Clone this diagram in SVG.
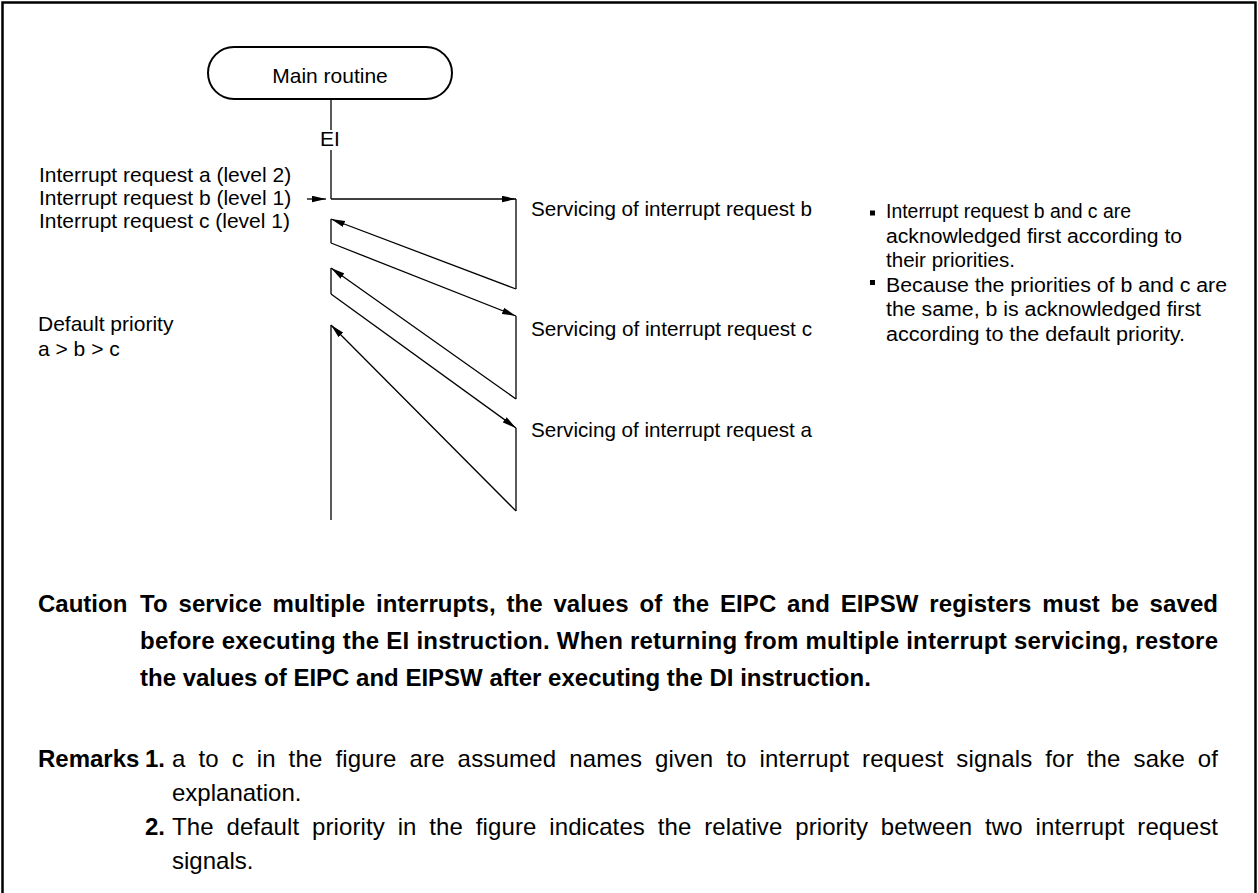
<svg xmlns="http://www.w3.org/2000/svg" width="1258" height="893" viewBox="0 0 1258 893">
<style>
  .t { font-family: "Liberation Sans", Arial, Helvetica, sans-serif; font-size: 21px; fill: #000; }
  .n { font-family: "Liberation Sans", Arial, Helvetica, sans-serif; font-size: 20px; fill: #000; }
  .c { font-family: "Liberation Sans", Arial, Helvetica, sans-serif; font-size: 24px; fill: #000; }
  .b { font-weight: bold; }
  .ln { stroke: #000; stroke-width: 1.3; fill: none; }
  .ar { stroke: #000; stroke-width: 1.3; fill: none; marker-end: url(#ah); }
</style>
<defs>
  <marker id="ah" markerUnits="userSpaceOnUse" markerWidth="15" markerHeight="7" refX="14" refY="3.25" orient="auto">
    <path d="M0,0 L14,3.25 L0,6.5 z" fill="#000"/>
  </marker>
</defs>
<rect x="0" y="0" width="1258" height="893" fill="#fff"/>
<g id="frame">
  <path d="M2.5,893 V2.5 H1255.5 V893" fill="none" stroke="#000" stroke-width="2.5"/>
</g>
<g id="main-routine">
  <rect x="208" y="47" width="244" height="52" rx="26" ry="26" fill="#fff" stroke="#000" stroke-width="2"/>
  <text class="t" x="330" y="83" text-anchor="middle">Main routine</text>
</g>
<g id="ei-label">
  <text class="t" x="330" y="146" text-anchor="middle">EI</text>
</g>
<g id="requests">
  <text class="t" x="39" y="182">Interrupt request a (level 2)</text>
  <text class="t" x="39" y="205">Interrupt request b (level 1)</text>
  <text class="t" x="39" y="228">Interrupt request c (level 1)</text>
</g>
<g id="default-priority">
  <text class="t" x="38" y="331">Default priority</text>
  <text class="t" x="38" y="356">a &gt; b &gt; c</text>
</g>
<g id="service-b">
  <text class="t" x="531" y="216" textLength="281" lengthAdjust="spacingAndGlyphs">Servicing of interrupt request b</text>
</g>
<g id="service-c">
  <text class="t" x="531" y="336" textLength="281" lengthAdjust="spacingAndGlyphs">Servicing of interrupt request c</text>
</g>
<g id="service-a">
  <text class="t" x="531" y="437" textLength="281" lengthAdjust="spacingAndGlyphs">Servicing of interrupt request a</text>
</g>
<g id="notes">
  <rect x="870" y="210.5" width="5" height="5" fill="#000"/>
  <text class="n" x="886" y="218" textLength="245" lengthAdjust="spacingAndGlyphs">Interrupt request b and c are</text>
  <text class="n" x="886" y="242.5" textLength="296" lengthAdjust="spacingAndGlyphs">acknowledged first according to</text>
  <text class="n" x="886" y="266.5" textLength="129" lengthAdjust="spacingAndGlyphs">their priorities.</text>
  <rect x="870" y="280" width="5" height="5" fill="#000"/>
  <text class="n" x="886" y="291.5" textLength="341" lengthAdjust="spacingAndGlyphs">Because the priorities of b and c are</text>
  <text class="n" x="886" y="316" textLength="315" lengthAdjust="spacingAndGlyphs">the same, b is acknowledged first</text>
  <text class="n" x="886" y="340.5" textLength="299" lengthAdjust="spacingAndGlyphs">according to the default priority.</text>
</g>
<g id="connectors">
  <path class="ln" d="M331,99 V130"/>
  <path class="ln" d="M331,150 V199"/>
  <path class="ar" d="M331,199 H516"/>
  <path class="ar" d="M307,199 H326"/>
  <path class="ln" d="M516,199 V289"/>
  <path class="ar" d="M516,289 L331,219"/>
  <path class="ln" d="M331,219 V243"/>
  <path class="ar" d="M331,243 L516,316"/>
  <path class="ln" d="M516,316 V399"/>
  <path class="ar" d="M516,399 L331,268"/>
  <path class="ln" d="M331,268 V294"/>
  <path class="ar" d="M331,294 L516,428"/>
  <path class="ln" d="M516,428 V511"/>
  <path class="ar" d="M516,511 L331,325"/>
  <path class="ln" d="M331,325 V520"/>
</g>
<g id="caution">
  <text class="c b" x="38" y="612">Caution</text>
  <text class="c b" x="140" y="612" word-spacing="4" textLength="1078" lengthAdjust="spacing">To service multiple interrupts, the values of the EIPC and EIPSW registers must be saved</text>
  <text class="c b" x="140" y="649" textLength="1078" lengthAdjust="spacing">before executing the EI instruction.  When returning from multiple interrupt servicing, restore</text>
  <text class="c b" x="140" y="686">the values of EIPC and EIPSW after executing the DI instruction.</text>
</g>
<g id="remarks">
  <text class="c b" x="38" y="767">Remarks</text>
  <text class="c b" x="145" y="767">1.</text>
  <text class="c" x="172" y="767" word-spacing="6" textLength="1046" lengthAdjust="spacing">a to c in the figure are assumed names given to interrupt request signals for the sake of</text>
  <text class="c" x="172" y="801">explanation.</text>
  <text class="c b" x="145" y="835">2.</text>
  <text class="c" x="172" y="835" word-spacing="6" textLength="1046" lengthAdjust="spacing">The default priority in the figure indicates the relative priority between two interrupt request</text>
  <text class="c" x="172" y="869">signals.</text>
</g>
</svg>
